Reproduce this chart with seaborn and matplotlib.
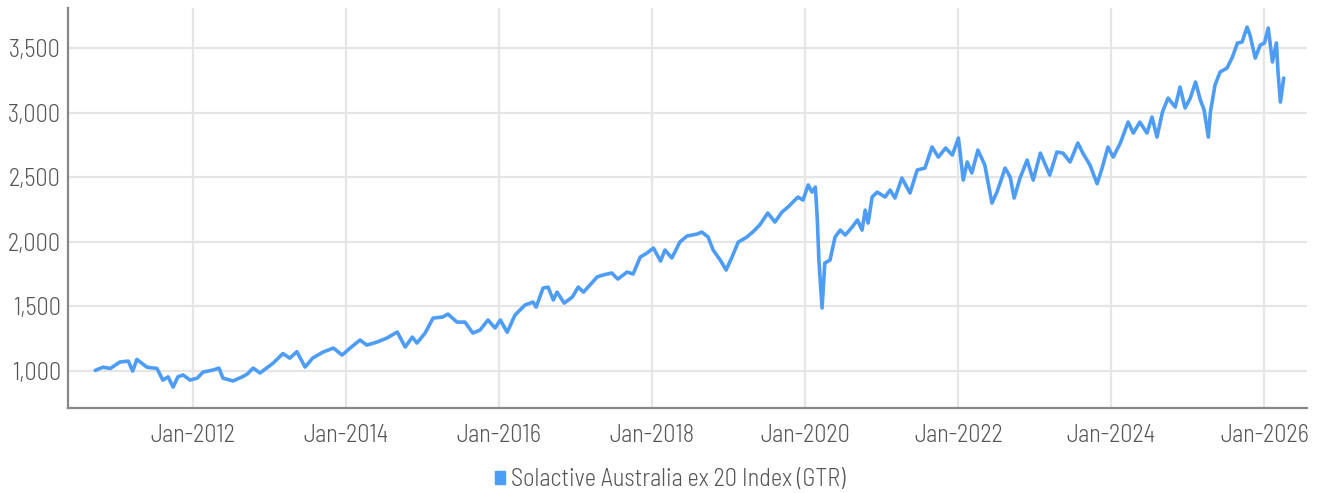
import matplotlib
matplotlib.use("Agg")
import matplotlib.pyplot as plt
from matplotlib.patches import Patch
import seaborn as sns
import pandas as pd

dates = [
    "2010-09-20", "2010-10-28", "2010-12-01", "2011-01-16", "2011-02-25", "2011-03-18",
    "2011-04-07", "2011-05-25", "2011-07-12", "2011-08-09", "2011-09-03", "2011-09-27",
    "2011-10-20", "2011-11-13", "2011-12-17", "2012-01-20", "2012-02-17", "2012-04-05",
    "2012-05-03", "2012-05-22", "2012-07-09", "2012-08-22", "2012-09-15", "2012-10-13",
    "2012-11-15", "2013-01-17", "2013-03-04", "2013-04-06", "2013-05-10", "2013-06-18",
    "2013-07-24", "2013-09-12", "2013-10-31", "2013-12-12", "2014-01-19", "2014-03-07",
    "2014-04-09", "2014-05-27", "2014-07-13", "2014-09-01", "2014-10-09", "2014-11-12",
    "2014-12-04", "2015-01-12", "2015-02-19", "2015-04-06", "2015-05-01", "2015-06-13",
    "2015-07-21", "2015-08-28", "2015-10-01", "2015-11-08", "2015-12-12", "2016-01-06",
    "2016-02-08", "2016-03-16", "2016-05-03", "2016-06-10", "2016-06-25", "2016-07-28",
    "2016-08-21", "2016-09-15", "2016-10-03", "2016-11-06", "2016-12-15", "2017-01-12",
    "2017-02-06", "2017-03-09", "2017-04-12", "2017-05-09", "2017-06-21", "2017-07-20",
    "2017-09-02", "2017-10-01", "2017-11-04", "2017-12-06", "2018-01-06", "2018-02-09",
    "2018-03-02", "2018-04-04", "2018-05-12", "2018-06-15", "2018-08-02", "2018-08-25",
    "2018-09-24", "2018-10-18", "2018-11-21", "2018-12-19", "2019-01-16", "2019-02-15",
    "2019-03-28", "2019-04-25", "2019-05-28", "2019-07-06", "2019-08-09", "2019-09-12",
    "2019-10-10", "2019-11-27", "2019-12-21", "2020-01-15", "2020-02-02", "2020-02-18",
    "2020-02-27", "2020-03-06", "2020-03-21", "2020-04-03", "2020-04-28", "2020-05-22",
    "2020-06-16", "2020-07-10", "2020-08-12", "2020-09-06", "2020-09-28", "2020-10-13",
    "2020-10-27", "2020-11-15", "2020-12-09", "2021-01-16", "2021-02-09", "2021-03-04",
    "2021-04-06", "2021-05-15", "2021-06-18", "2021-07-25", "2021-08-28", "2021-09-27",
    "2021-11-01", "2021-12-03", "2022-01-01", "2022-01-24", "2022-02-12", "2022-03-06",
    "2022-04-04", "2022-05-07", "2022-06-10", "2022-07-04", "2022-08-12", "2022-09-05",
    "2022-09-24", "2022-10-22", "2022-11-25", "2022-12-24", "2023-01-27", "2023-03-13",
    "2023-04-16", "2023-05-15", "2023-06-18", "2023-07-25", "2023-08-18", "2023-09-21",
    "2023-10-25", "2023-11-18", "2023-12-16", "2024-01-10", "2024-02-13", "2024-03-21",
    "2024-04-15", "2024-05-16", "2024-06-19", "2024-07-13", "2024-08-06", "2024-09-01",
    "2024-09-28", "2024-11-01", "2024-11-24", "2024-12-18", "2025-01-12", "2025-02-06",
    "2025-03-01", "2025-03-19", "2025-04-08", "2025-04-18", "2025-05-10", "2025-06-03",
    "2025-07-06", "2025-08-01", "2025-08-25", "2025-09-16", "2025-10-10", "2025-10-24",
    "2025-11-18", "2025-12-12", "2026-01-01", "2026-01-19", "2026-02-08", "2026-02-27",
    "2026-03-07", "2026-03-18", "2026-04-03",
]

index_values = [
    1005, 1030, 1020, 1070, 1077, 1000,
    1090, 1030, 1020, 930, 955, 876,
    955, 970, 930, 945, 992, 1008,
    1023, 945, 923, 955, 977, 1023,
    985, 1062, 1135, 1100, 1150, 1031,
    1100, 1147, 1178, 1124, 1178, 1240,
    1201, 1224, 1255, 1302, 1186, 1263,
    1217, 1294, 1410, 1418, 1441, 1379,
    1379, 1294, 1317, 1395, 1333, 1395,
    1300, 1433, 1511, 1534, 1495, 1642,
    1650, 1550, 1611, 1526, 1573, 1650,
    1611, 1666, 1728, 1743, 1759, 1712,
    1766, 1751, 1882, 1913, 1952, 1851,
    1937, 1875, 1998, 2045, 2060, 2076,
    2037, 1937, 1859, 1782, 1882, 1998,
    2037, 2076, 2130, 2223, 2153, 2231,
    2269, 2347, 2323, 2440, 2385, 2424,
    2184, 1859, 1488, 1836, 1859, 2037,
    2091, 2053, 2115, 2169, 2091, 2246,
    2145, 2347, 2385, 2347, 2401, 2339,
    2494, 2378, 2556, 2571, 2734, 2656,
    2726, 2672, 2803, 2478, 2618, 2533,
    2710, 2594, 2300, 2385, 2571, 2502,
    2339, 2494, 2633, 2478, 2687, 2517,
    2695, 2687, 2618, 2765, 2687, 2594,
    2450, 2571, 2734, 2656, 2765, 2927,
    2842, 2927, 2842, 2966, 2811, 3005,
    3113, 3043, 3198, 3036, 3113, 3237,
    3098, 3020, 2811, 3005, 3214, 3314,
    3345, 3430, 3539, 3546, 3662, 3600,
    3422, 3523, 3539, 3655, 3392, 3539,
    3307, 3082, 3268,
]

series_name = "Solactive Australia ex 20 Index (GTR)"
y_ticks = [1000, 1500, 2000, 2500, 3000, 3500]
x_tick_years = [2012, 2014, 2016, 2018, 2020, 2022, 2024, 2026]

df = pd.DataFrame({"date": pd.to_datetime(dates), "value": index_values})

sns.set_theme(style="white")
plt.rcParams["font.family"] = ["Barlow Semi Condensed", "Barlow Condensed",
                               "Roboto Condensed", "DejaVu Sans"]
plt.rcParams["font.weight"] = 300

LINE = "#4d9cf5"
GRID = "#e5e5e5"
TEXT = "#555555"

fig = plt.figure(figsize=(13.17, 4.93), dpi=100)
ax = fig.add_axes([0.0516, 0.1724, 0.9408, 0.8114])

sns.lineplot(data=df, x="date", y="value", ax=ax, color=LINE, linewidth=2.6, zorder=3)

ax.set_ylim(714, 3810)
ax.set_xlim(pd.Timestamp("2010-05-13"), pd.Timestamp("2026-07-23"))
ax.set_yticks(y_ticks)
ax.set_yticklabels([f"{v:,}" for v in y_ticks])
ax.set_xticks([pd.Timestamp(f"{y}-01-01") for y in x_tick_years])
ax.set_xticklabels([f"Jan-{y}" for y in x_tick_years])

ax.grid(True, color=GRID, linewidth=1.6, zorder=0)
ax.set_axisbelow(True)
ax.set_xlabel("")
ax.set_ylabel("")
for s in ["top", "right"]:
    ax.spines[s].set_visible(False)
for s in ["left", "bottom"]:
    ax.spines[s].set_color("#888888")
    ax.spines[s].set_linewidth(1.6)
ax.tick_params(axis="both", length=0, labelsize=17.5, labelcolor=TEXT)
ax.tick_params(axis="x", pad=11.5)
ax.tick_params(axis="y", pad=5)

handle = Patch(facecolor=LINE, edgecolor=LINE)
fig.legend([handle], [series_name], loc="center", bbox_to_anchor=(0.509, 0.027),
           frameon=False, fontsize=17.5, handlelength=0.42, handleheight=0.42,
           handletextpad=0.25, labelcolor=TEXT)

fig.savefig("out.png", dpi=100)
